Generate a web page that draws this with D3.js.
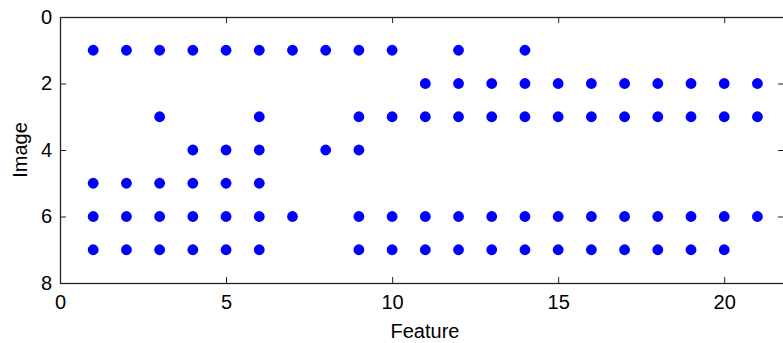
<!DOCTYPE html>
<html><head><meta charset="utf-8">
<script src="https://cdn.jsdelivr.net/npm/d3@7"></script>
<style>body{margin:0;background:#fff}svg{display:block}text{font-family:"Liberation Sans",Arial,sans-serif}</style>
</head><body><svg id="c" width="783" height="343"></svg>
<script>
// Feature indices present for each image row
const rowImages = [1, 2, 3, 4, 5, 6, 7];
const rowFeatures = [
  [1,2,3,4,5,6,7,8,9,10,12,14],
  [11,12,13,14,15,16,17,18,19,20,21],
  [3,6,9,10,11,12,13,14,15,16,17,18,19,20,21],
  [4,5,6,8,9],
  [1,2,3,4,5,6],
  [1,2,3,4,5,6,7,9,10,11,12,13,14,15,16,17,18,19,20,21],
  [1,2,3,4,5,6,9,10,11,12,13,14,15,16,17,18,19,20]
];
const xTicks = [0, 5, 10, 15, 20];
const yTicks = [0, 2, 4, 6, 8];
const xDomain = [0, 21.8];
const yDomain = [0, 8];

const points = [];
rowImages.forEach((img, i) => rowFeatures[i].forEach(f => points.push({x: f, y: img})));

const L = 60, R = 784, T = 17, B = 283;
const FS = 20;
const svg = d3.select("#c");
const x = d3.scaleLinear().domain(xDomain).range([L, R]);
const y = d3.scaleLinear().domain(yDomain).range([T, B]);

const tl = 6;
function style(g){
  g.select(".domain").remove();
  g.selectAll("line").attr("stroke","#222").attr("stroke-width",1);
  g.selectAll("text").attr("font-size",FS).attr("fill","#000");
}
svg.append("g").attr("transform",`translate(0,${B})`)
  .call(d3.axisBottom(x).tickValues(xTicks).tickSize(-tl).tickPadding(12).tickFormat(d3.format("d")))
  .call(style);
svg.append("g").attr("transform",`translate(0,${T})`)
  .call(d3.axisTop(x).tickValues(xTicks).tickSize(-tl).tickFormat(""))
  .call(style);
svg.append("g").attr("transform",`translate(${L},0)`)
  .call(d3.axisLeft(y).tickValues(yTicks).tickSize(-tl).tickPadding(8).tickFormat(d3.format("d")))
  .call(style);
svg.append("g").attr("transform",`translate(${R},0)`)
  .call(d3.axisRight(y).tickValues(yTicks).tickSize(-tl).tickFormat(""))
  .call(style);

svg.append("rect").attr("x",L+0.5).attr("y",T+0.5).attr("width",R-L).attr("height",B-T)
  .attr("fill","none").attr("stroke","#222").attr("stroke-width",1.3);

svg.append("g").selectAll("circle").data(points).join("circle")
  .attr("cx",d=>x(d.x)).attr("cy",d=>y(d.y)).attr("r",5.4).attr("fill","#0000ff");

svg.append("text").attr("x",425).attr("y",338).attr("text-anchor","middle")
  .attr("font-size",FS).text("Feature");
svg.append("text").attr("transform",`translate(27,${(T+B)/2}) rotate(-90)`).attr("text-anchor","middle")
  .attr("font-size",FS).text("Image");
</script></body></html>
